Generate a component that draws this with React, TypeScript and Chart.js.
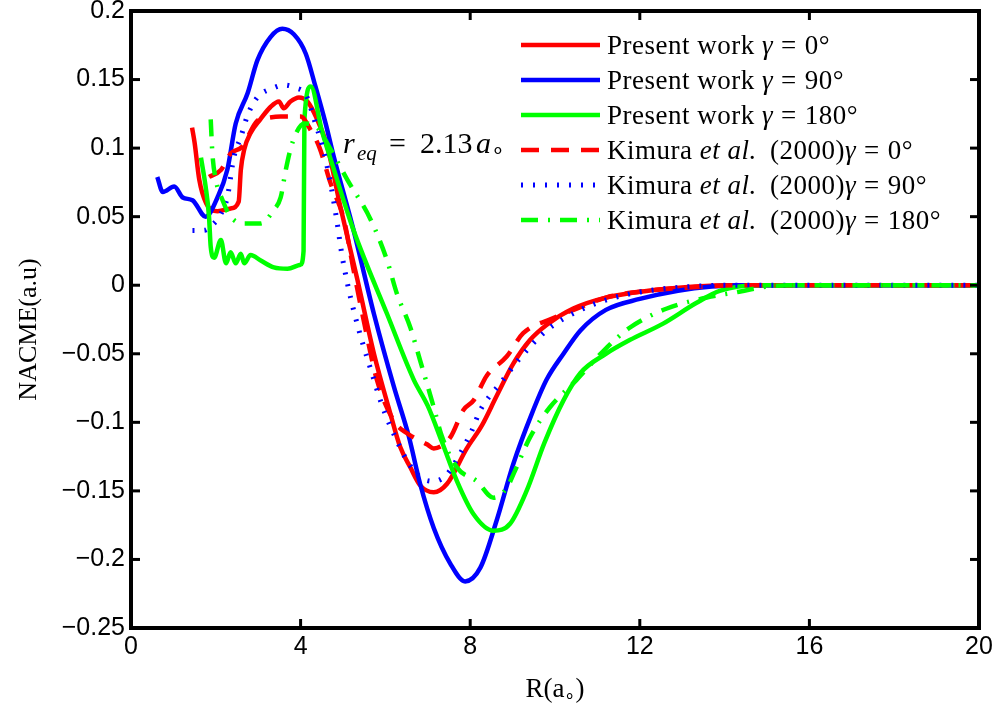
import { useEffect, useRef } from "react";
import { Chart, registerables } from "chart.js";

Chart.register(...registerables);

// Axis ticks
const xTicks = [0, 4, 8, 12, 16, 20];
const yTicks = [-0.25, -0.2, -0.15, -0.1, -0.05, 0, 0.05, 0.1, 0.15, 0.2];

// Present work, gamma = 0
const presentR0 = [1.44, 1.5, 1.61, 1.77, 2.04, 2.35, 2.54, 2.59, 2.67, 2.82, 3.05, 3.29, 3.49, 3.6, 3.76, 3.96, 4.16, 4.39, 4.63, 4.94, 5.34, 5.73, 6.12, 6.35, 6.59, 6.82, 7.14, 7.45, 7.92, 8.28, 8.62, 9.02, 9.41, 9.8, 10.43, 11.2, 12.2, 13.3, 14.2, 16, 18, 20];
const presentN0 = [0.115, 0.104, 0.077, 0.06, 0.054, 0.056, 0.061, 0.084, 0.099, 0.111, 0.121, 0.13, 0.134, 0.129, 0.134, 0.137, 0.134, 0.121, 0.101, 0.057, 0.004, -0.05, -0.094, -0.118, -0.133, -0.146, -0.151, -0.145, -0.119, -0.102, -0.081, -0.057, -0.04, -0.029, -0.017, -0.009, -0.004, -0.001, 0, 0, 0, 0];

// Present work, gamma = 90
const presentR90 = [0.62, 0.75, 1.02, 1.22, 1.45, 1.76, 2.04, 2.27, 2.47, 2.75, 2.98, 3.29, 3.57, 3.84, 4.12, 4.35, 4.59, 4.78, 5.25, 5.73, 6.2, 6.55, 6.82, 7.14, 7.53, 7.88, 8.24, 8.62, 9.02, 9.45, 9.8, 10.2, 10.6, 11.2, 12.0, 12.9, 13.7, 14.5, 16, 18, 20];
const presentN90 = [0.079, 0.068, 0.072, 0.064, 0.062, 0.05, 0.064, 0.084, 0.118, 0.14, 0.164, 0.181, 0.187, 0.183, 0.169, 0.145, 0.118, 0.094, 0.04, -0.021, -0.074, -0.11, -0.145, -0.177, -0.203, -0.216, -0.206, -0.172, -0.13, -0.094, -0.069, -0.05, -0.033, -0.018, -0.01, -0.004, -0.001, 0, 0, 0, 0];

// Present work, gamma = 180
const presentR180 = [1.65, 1.76, 1.84, 1.88, 1.96, 2.12, 2.24, 2.35, 2.47, 2.59, 2.67, 2.82, 3.06, 3.37, 3.69, 4.0, 4.07, 4.09, 4.24, 4.5, 4.75, 5.25, 6.04, 6.67, 7.0, 7.33, 7.69, 8.08, 8.55, 8.94, 9.33, 9.75, 10.2, 10.6, 11.2, 11.76, 12.55, 13.33, 13.9, 14.8, 16, 18, 20];
const presentN180 = [0.093, 0.072, 0.05, 0.028, 0.02, 0.033, 0.016, 0.024, 0.016, 0.023, 0.016, 0.022, 0.018, 0.013, 0.012, 0.015, 0.025, 0.121, 0.145, 0.113, 0.088, 0.04, -0.021, -0.069, -0.088, -0.114, -0.143, -0.167, -0.179, -0.174, -0.15, -0.115, -0.084, -0.064, -0.05, -0.04, -0.028, -0.013, -0.004, 0, 0, 0, 0];

// Kimura et al. (2000), gamma = 0
const kimuraR0 = [1.84, 2.12, 2.35, 2.62, 2.98, 3.2, 3.53, 3.76, 4.0, 4.24, 4.45, 4.7, 5.02, 5.25, 5.49, 5.8, 6.2, 6.51, 6.98, 7.14, 7.53, 7.84, 8.08, 8.39, 8.86, 9.25, 9.96, 10.6, 11.2, 12.2, 13.5, 14.3, 16, 18, 20];
const kimuraN0 = [0.079, 0.084, 0.096, 0.101, 0.12, 0.122, 0.123, 0.123, 0.123, 0.113, 0.1, 0.075, 0.048, 0.011, -0.026, -0.069, -0.099, -0.108, -0.116, -0.119, -0.111, -0.091, -0.084, -0.066, -0.052, -0.035, -0.024, -0.016, -0.009, -0.004, -0.001, 0, 0, 0, 0];

// Kimura et al. (2000), gamma = 90
const kimuraR90 = [1.45, 1.72, 1.92, 2.12, 2.27, 2.43, 2.59, 2.75, 2.98, 3.37, 3.6, 3.88, 4.12, 4.35, 4.55, 4.72, 4.85, 4.97, 5.12, 5.35, 5.66, 5.96, 6.25, 6.51, 6.82, 7.14, 7.45, 7.76, 8.04, 8.24, 8.7, 9.18, 9.8, 10.6, 11.4, 12.2, 13.2, 14.0, 16, 18, 20];
const kimuraN90 = [0.04, 0.04, 0.044, 0.052, 0.064, 0.094, 0.108, 0.124, 0.137, 0.144, 0.146, 0.144, 0.139, 0.118, 0.097, 0.072, 0.048, 0.023, -0.001, -0.03, -0.062, -0.091, -0.112, -0.128, -0.14, -0.143, -0.138, -0.123, -0.106, -0.091, -0.072, -0.053, -0.033, -0.018, -0.009, -0.004, -0.001, 0, 0, 0, 0];

// Kimura et al. (2000), gamma = 180
const kimuraR180 = [1.88, 1.92, 2.0, 2.16, 2.35, 2.67, 3.06, 3.37, 3.53, 3.65, 3.76, 3.88, 4.08, 4.39, 4.71, 5.1, 5.65, 6.04, 6.27, 6.59, 6.82, 7.14, 7.33, 7.69, 8.16, 8.55, 8.86, 9.06, 9.41, 9.88, 10.51, 11.14, 11.76, 12.64, 13.58, 14.3, 15.0, 15.5, 17, 20];
const kimuraN180 = [0.121, 0.096, 0.077, 0.062, 0.05, 0.045, 0.045, 0.055, 0.064, 0.084, 0.099, 0.11, 0.118, 0.115, 0.099, 0.077, 0.048, 0.018, -0.006, -0.031, -0.055, -0.089, -0.11, -0.133, -0.143, -0.155, -0.148, -0.135, -0.111, -0.089, -0.069, -0.048, -0.031, -0.017, -0.009, -0.005, -0.001, 0, 0, 0];

const seriesLabels = [
  "Present work γ = 0°",
  "Present work γ = 90°",
  "Present work γ = 180°",
  "Kimura et al. (2000)γ = 0°",
  "Kimura et al. (2000)γ = 90°",
  "Kimura et al. (2000)γ = 180°",
];

const seriesData = [
  [presentR0, presentN0],
  [presentR90, presentN90],
  [presentR180, presentN180],
  [kimuraR0, kimuraN0],
  [kimuraR90, kimuraN90],
  [kimuraR180, kimuraN180],
];

const seriesStyles = [
  { color: "#ff0000", width: 4.5, dash: [] as number[] },
  { color: "#0000ff", width: 4.5, dash: [] as number[] },
  { color: "#00ff00", width: 4.5, dash: [] as number[] },
  { color: "#ff0000", width: 4.5, dash: [18, 12] },
  { color: "#0000ff", width: 5, dash: [2, 10] },
  { color: "#00ff00", width: 4.5, dash: [17, 10, 2, 10] },
];

const SERIF = '"Liberation Serif", "Times New Roman", serif';
const SANS = '"Liberation Sans", Arial, sans-serif';

// Text drawn with italic runs for the math-style parts and wider space around "="
function drawRich(ctx: CanvasRenderingContext2D, x: number, y: number, text: string, size: number) {
  const parts = text.split(/(et al\.|γ| = )/);
  let cx = x;
  for (const p of parts) {
    if (!p) continue;
    if (p === " = ") {
      ctx.font = `${size}px ${SERIF}`;
      cx += 8;
      ctx.fillText("=", cx, y);
      cx += ctx.measureText("=").width + 8;
      continue;
    }
    const italic = p === "et al." || p === "γ";
    ctx.font = `${italic ? "italic " : ""}${size}px ${SERIF}`;
    ctx.fillText(p, cx, y);
    cx += ctx.measureText(p).width;
    if (p === "et al.") cx += 6;
  }
}

const annotationAt = { x: 5.0, y: 0.0965 };

const decorations = {
  id: "decorations",
  afterDatasetsDraw(chart: any) {
    const { ctx, chartArea: a, scales } = chart;
    const xs = scales.x;
    const ys = scales.y;
    ctx.save();
    ctx.strokeStyle = "#000";
    ctx.fillStyle = "#000";
    ctx.setLineDash([]);
    ctx.lineCap = "butt";

    // inward tick marks on all four sides
    ctx.lineWidth = 3;
    const seg = (x1: number, y1: number, x2: number, y2: number) => {
      ctx.beginPath();
      ctx.moveTo(x1, y1);
      ctx.lineTo(x2, y2);
      ctx.stroke();
    };
    for (const v of xTicks) {
      const px = xs.getPixelForValue(v);
      seg(px, a.bottom, px, a.bottom - 9);
      seg(px, a.top, px, a.top + 9);
    }
    for (const v of yTicks) {
      const py = ys.getPixelForValue(v);
      seg(a.left, py, a.left + 9, py);
      seg(a.right, py, a.right - 9, py);
    }

    // box
    ctx.lineWidth = 4;
    ctx.strokeRect(a.left, a.top, a.right - a.left, a.bottom - a.top);

    // legend
    const lx0 = a.right - 458;
    const lx1 = a.right - 379;
    const tx = a.right - 372;
    chart.data.datasets.forEach((ds: any, i: number) => {
      const cy = a.top + 34 + i * 35;
      ctx.save();
      ctx.strokeStyle = ds.borderColor;
      ctx.lineWidth = ds.borderWidth;
      ctx.setLineDash(ds.borderDash || []);
      ctx.beginPath();
      ctx.moveTo(lx0, cy);
      ctx.lineTo(lx1, cy);
      ctx.stroke();
      ctx.restore();
      ctx.save();
      ctx.textBaseline = "alphabetic";
      ctx.textAlign = "left";
      (ctx as any).letterSpacing = "0.5px";
      drawRich(ctx, tx, cy + 9, ds.label, 27);
      ctx.restore();
    });

    // equilibrium distance note
    {
      const x0 = xs.getPixelForValue(annotationAt.x);
      const by = ys.getPixelForValue(annotationAt.y);
      ctx.textAlign = "left";
      ctx.textBaseline = "alphabetic";
      ctx.font = `italic 30px ${SERIF}`;
      ctx.fillText("r", x0, by);
      ctx.font = `italic 21px ${SERIF}`;
      ctx.fillText("eq", x0 + 14, by + 7);
      ctx.font = `30px ${SERIF}`;
      ctx.fillText("=", x0 + 46, by);
      ctx.fillText("2.13", x0 + 77, by);
      ctx.font = `italic 30px ${SERIF}`;
      ctx.fillText("a", x0 + 133, by);
      ctx.font = `22px ${SERIF}`;
      ctx.fillText("∘", x0 + 148, by + 4);
    }

    // axis titles
    ctx.save();
    ctx.translate(36, (a.top + a.bottom) / 2 + 10);
    ctx.rotate(-Math.PI / 2);
    ctx.font = `26px ${SERIF}`;
    ctx.textAlign = "center";
    ctx.textBaseline = "alphabetic";
    ctx.fillText("NACME(a.u)", 0, 0);
    ctx.restore();

    {
      const mid = (a.left + a.right) / 2;
      const by = 697;
      ctx.font = `27px ${SERIF}`;
      const w1 = ctx.measureText("R(a").width;
      ctx.font = `18px ${SERIF}`;
      const w2 = ctx.measureText("∘").width;
      ctx.font = `27px ${SERIF}`;
      const w3 = ctx.measureText(")").width;
      let cx = mid - (w1 + w2 + w3) / 2;
      ctx.textAlign = "left";
      ctx.fillText("R(a", cx, by);
      cx += w1;
      ctx.font = `18px ${SERIF}`;
      ctx.fillText("∘", cx, by + 4);
      cx += w2;
      ctx.font = `27px ${SERIF}`;
      ctx.fillText(")", cx, by);
    }
    ctx.restore();
  },
};

function formatTick(v: number) {
  return String(v).replace("-", "\u2212");
}

export default function App() {
  const canvasRef = useRef<HTMLCanvasElement | null>(null);

  useEffect(() => {
    const canvas = canvasRef.current;
    if (!canvas) return;
    const datasets = seriesData.map(([rs, ns], i) => ({
      label: seriesLabels[i],
      data: rs.map((r, j) => ({ x: r, y: ns[j] })),
      borderColor: seriesStyles[i].color,
      backgroundColor: seriesStyles[i].color,
      borderWidth: seriesStyles[i].width,
      borderDash: seriesStyles[i].dash,
      borderCapStyle: "butt" as const,
      borderJoinStyle: "round" as const,
      pointRadius: 0,
      fill: false,
      cubicInterpolationMode: "monotone" as const,
      order: seriesData.length - i,
    }));

    const chart = new Chart(canvas, {
      type: "line",
      data: { datasets },
      options: {
        animation: false,
        responsive: false,
        devicePixelRatio: 1,
        layout: { padding: { left: 0, right: 22, top: 11, bottom: 0 } },
        plugins: { legend: { display: false }, tooltip: { enabled: false } },
        scales: {
          x: {
            type: "linear",
            min: 0,
            max: 20,
            grid: { display: false, drawTicks: false },
            border: { display: false },
            ticks: {
              autoSkip: false,
              maxRotation: 0,
              padding: 4,
              color: "#000",
              font: { family: SANS, size: 25 },
              callback: (v: any) => formatTick(Number(v)),
            },
            afterBuildTicks: (s: any) => {
              s.ticks = xTicks.map((v) => ({ value: v }));
            },
            afterFit: (s: any) => {
              s.height = 80;
              s.paddingLeft = 0;
              s.paddingRight = 0;
              s.paddingTop = 0;
              s.paddingBottom = 0;
            },
          },
          y: {
            type: "linear",
            min: -0.25,
            max: 0.2,
            grid: { display: false, drawTicks: false },
            border: { display: false },
            ticks: {
              autoSkip: false,
              padding: 6,
              color: "#000",
              font: { family: SANS, size: 25 },
              callback: (v: any) => formatTick(Number(v)),
            },
            afterBuildTicks: (s: any) => {
              s.ticks = yTicks.map((v) => ({ value: v }));
            },
            afterFit: (s: any) => {
              s.width = 131;
              s.paddingLeft = 0;
              s.paddingRight = 0;
              s.paddingTop = 0;
              s.paddingBottom = 0;
            },
          },
        },
      },
      plugins: [decorations],
    });
    return () => chart.destroy();
  }, []);

  return (
    <div style={{ position: "absolute", left: 0, top: 0, width: 1001, height: 708, background: "#fff" }}>
      <canvas ref={canvasRef} width={1001} height={708} style={{ display: "block" }} />
    </div>
  );
}
